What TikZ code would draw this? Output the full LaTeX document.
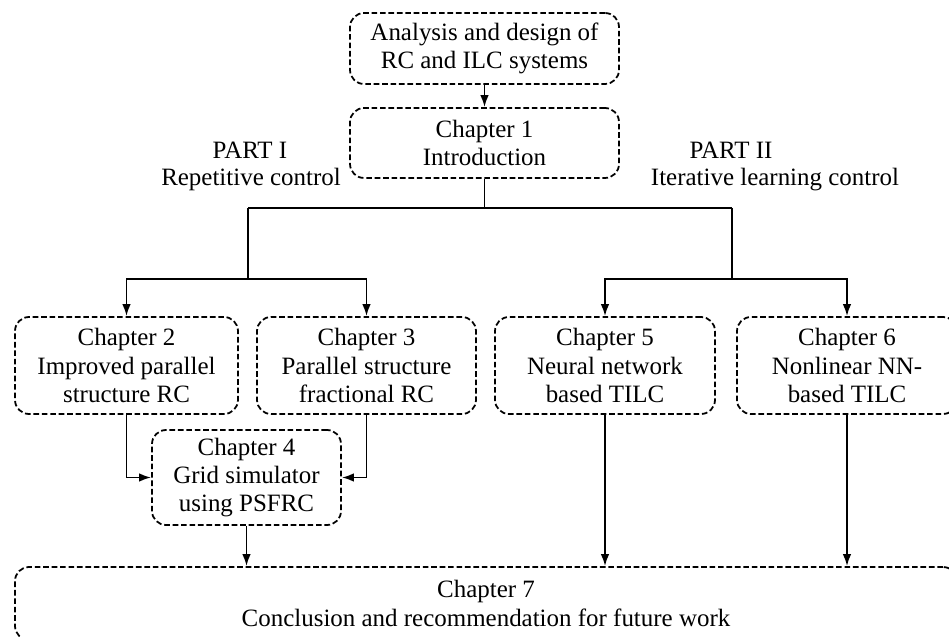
\documentclass[tikz,border=0pt]{standalone}
\usepackage{fontspec}
\setmainfont{Liberation Serif}
\usetikzlibrary{arrows.meta, positioning, calc}

\begin{document}
\begin{tikzpicture}[
  chapbox/.style={draw, rounded corners=8pt, dash pattern=on 3.2pt off 1.6pt,
    line width=1pt, align=center, inner sep=0pt,
    font=\fontsize{14.2}{16}\selectfont},
  flow/.style={line width=1pt, -{Latex[length=2.4mm,width=1.7mm]}},
  link/.style={line width=1pt},
  partlbl/.style={font=\fontsize{14.2}{16}\selectfont}
]
  \clip (0,0) rectangle (18.98,12.72);

  % Top of the thesis
  \node[chapbox, minimum width=5.38cm, minimum height=1.42cm] (aim) at (9.69,11.75)
    {Analysis and design of\\RC and ILC systems};
  \node[chapbox, minimum width=5.38cm, minimum height=1.40cm] (ch1) at (9.69,9.86)
    {Chapter 1\\Introduction};
  \draw[flow] (aim.south) -- (ch1.north);

  % Part labels
  \node[partlbl] (pone) at (5.00,9.72) {PART I};
  \node[partlbl] (ponesub) at (5.02,9.12) {Repetitive control};
  \node[partlbl] (ptwo) at (14.62,9.72) {PART II};
  \node[partlbl] (ptwosub) at (15.50,9.12) {Iterative learning control};

  % Chapters of part I
  \node[chapbox, minimum width=4.46cm, minimum height=1.94cm] (ch2) at (2.53,5.41)
    {Chapter 2\\Improved parallel\\structure RC};
  \node[chapbox, minimum width=4.38cm, minimum height=1.94cm] (ch3) at (7.33,5.41)
    {Chapter 3\\Parallel structure\\fractional RC};
  \node[chapbox, minimum width=3.78cm, minimum height=1.90cm] (ch4) at (4.93,3.17)
    {Chapter 4\\Grid simulator\\using PSFRC};

  % Chapters of part II
  \node[chapbox, minimum width=4.40cm, minimum height=1.94cm] (ch5) at (12.10,5.41)
    {Chapter 5\\Neural network\\based TILC};
  \node[chapbox, minimum width=4.40cm, minimum height=1.94cm] (ch6) at (16.94,5.41)
    {Chapter 6\\Nonlinear NN-\\based TILC};

  % Closing chapter
  \node[chapbox, minimum width=18.84cm, minimum height=1.46cm] (ch7) at (9.72,0.65)
    {Chapter 7\\Conclusion and recommendation for future work};

  % Split into the two parts
  \coordinate (split) at ($(ch1.south)+(0,-0.60)$);
  \coordinate (jone) at (4.96,8.56);
  \coordinate (jtwo) at (14.64,8.56);
  \coordinate (forkone) at (4.96,7.14);
  \coordinate (forktwo) at (14.64,7.14);
  \draw[link] (ch1.south) -- (split);
  \draw[link] (jone) -- (jtwo);
  \draw[link] (jone) -- (forkone);
  \draw[link] (jtwo) -- (forktwo);
  \draw[flow] (forkone) -| (ch2.north);
  \draw[flow] (forkone) -| (ch3.north);
  \draw[flow] (forktwo) -| (ch5.north);
  \draw[flow] (forktwo) -| (ch6.north);

  % Into chapter 4
  \draw[flow] (ch2.south) |- (ch4.west);
  \draw[flow] (ch3.south) |- (ch4.east);

  % Into chapter 7
  \draw[flow] (ch4.south) -- (ch4.south |- ch7.north);
  \draw[flow] (ch5.south) -- (ch5.south |- ch7.north);
  \draw[flow] (ch6.south) -- (ch6.south |- ch7.north);

\end{tikzpicture}
\end{document}
